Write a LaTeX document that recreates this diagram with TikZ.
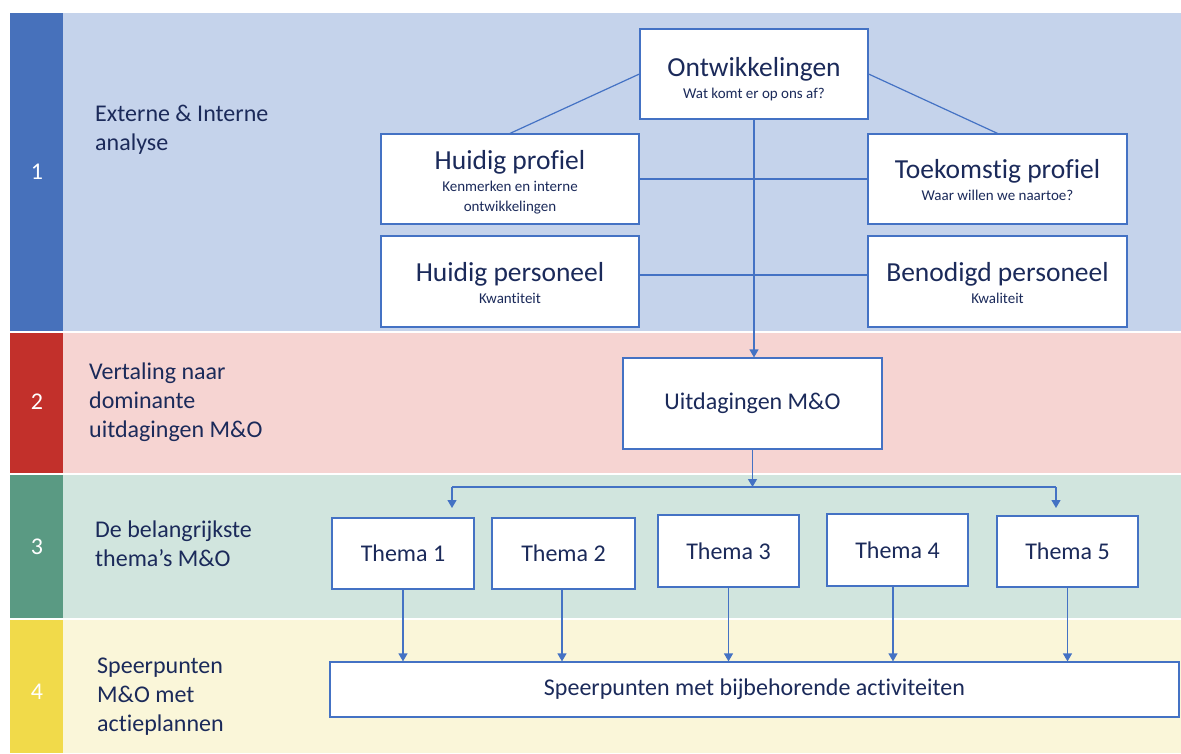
\documentclass[tikz,border=0pt]{standalone}
\usepackage{fontspec}
\setmainfont{Carlito}[Ligatures=NoCommon]
\usetikzlibrary{arrows.meta}

\definecolor{bandAdark}{HTML}{4771BB}
\definecolor{bandAlight}{HTML}{C5D3EB}
\definecolor{bandBdark}{HTML}{C2302B}
\definecolor{bandBlight}{HTML}{F6D4D2}
\definecolor{bandCdark}{HTML}{5A9A83}
\definecolor{bandClight}{HTML}{D1E5DE}
\definecolor{bandDdark}{HTML}{F1DA4A}
\definecolor{bandDlight}{HTML}{FAF6D9}
\definecolor{navy}{HTML}{1B2A5A}
\definecolor{lineblue}{HTML}{4472C4}

\newcommand\titlefnt{\fontsize{27.5}{32}\selectfont}
\newcommand\bodyfnt{\fontsize{24}{29}\selectfont}
\newcommand\subfnt{\fontsize{15}{20}\selectfont}

\tikzset{
  box/.style={draw=lineblue, line width=1.2pt, fill=white, inner sep=0pt,
              align=center, text=navy},
  frame/.style={draw=lineblue, line width=1.2pt, fill=white, inner sep=0pt},
  boxtext/.style={align=center, text=navy, font=\subfnt, inner sep=0pt},
  conn/.style={draw=lineblue, line width=1.2pt},
  arr/.style={conn, -{Triangle[width=9pt,length=8pt]}},
  lbl/.style={anchor=west, align=left, text=navy, font=\bodyfnt, inner sep=0pt},
  num/.style={text=white, font=\bodyfnt, inner sep=0pt}
}

\begin{document}
\begin{tikzpicture}[x=1pt, y=-1pt]
\useasboundingbox (0,0) rectangle (1181,753);
\fill[white] (0,0) rectangle (1181,753);

% colour bands with their coloured left column
\fill[bandAlight] (63,13)  rectangle (1181,331);
\fill[bandAdark]  (10,13)  rectangle (63,331);
\fill[bandBlight] (63,333) rectangle (1181,473);
\fill[bandBdark]  (10,333) rectangle (63,473);
\fill[bandClight] (63,475) rectangle (1181,618);
\fill[bandCdark]  (10,475) rectangle (63,618);
\fill[bandDlight] (63,620) rectangle (1181,753);
\fill[bandDdark]  (10,620) rectangle (63,753);

% step numbers
\node[num] (n1) at (37,172) {1};
\node[num] (n2) at (37,402) {2};
\node[num] (n3) at (37,547) {3};
\node[num] (n4) at (37,692) {4};

% step descriptions
\node[lbl] (l1) at (95,130) {Externe \& Interne\\analyse};
\node[lbl] (l2) at (89,402) {Vertaling naar\\dominante\\uitdagingen M\&O};
\node[lbl] (l3) at (95,544) {De belangrijkste\\thema’s M\&O};
\node[lbl] (l4) at (97,697) {Speerpunten\\M\&O met\\actieplannen};

% analysis boxes: frame first, then its two-level text
\node[frame, minimum width=228pt, minimum height=90pt] (o) at (754,74) {};
\node[boxtext] (otx) at (754,79)
  {{\titlefnt Ontwikkelingen}\\[2pt]Wat komt er op ons af?};
\node[frame, minimum width=258pt, minimum height=90pt] (hp) at (510,179) {};
\node[boxtext] (hptx) at (510,182)
  {{\titlefnt Huidig profiel}\\[2pt]Kenmerken en interne\\ontwikkelingen};
\node[frame, minimum width=259pt, minimum height=90pt] (tp) at (997.5,179) {};
\node[boxtext] (tptx) at (997.5,180)
  {{\titlefnt Toekomstig profiel}\\[2pt]Waar willen we naartoe?};
\node[frame, minimum width=258pt, minimum height=91pt] (hpe) at (510,281.5) {};
\node[boxtext] (hpetx) at (510,283.5)
  {{\titlefnt Huidig personeel}\\[2pt]Kwantiteit};
\node[frame, minimum width=259pt, minimum height=91pt] (bp) at (997.5,281.5) {};
\node[boxtext] (bptx) at (997.5,283.5)
  {{\titlefnt Benodigd personeel}\\[2pt]Kwaliteit};

% challenges
\node[box, minimum width=259pt, minimum height=91pt, font=\bodyfnt] (u) at (752.5,403.5)
  {Uitdagingen M\&O};

% themes
\node[box, minimum width=142pt, minimum height=71pt, font=\bodyfnt] (t1) at (403,553.5) {Thema 1};
\node[box, minimum width=143pt, minimum height=71pt, font=\bodyfnt] (t2) at (563.5,553.5) {Thema 2};
\node[box, minimum width=141pt, minimum height=72pt, font=\bodyfnt] (t3) at (728.5,551) {Thema 3};
\node[box, minimum width=141pt, minimum height=72pt, font=\bodyfnt] (t4) at (897.5,550) {Thema 4};
\node[box, minimum width=141pt, minimum height=71pt, font=\bodyfnt] (t5) at (1067.5,551.5) {Thema 5};

% focus points
\node[box, minimum width=849pt, minimum height=55pt, font=\bodyfnt] (sp) at (754.5,689.5)
  {Speerpunten met bijbehorende activiteiten};

% connectors in step 1
\draw[conn] (o.west) -- (hp.north);
\draw[conn] (o.east) -- (tp.north);
\draw[conn] (hp.east) -- (tp.west);
\draw[conn] ([yshift=6.5pt]hpe.east) -- ([yshift=6.5pt]bp.west);
\draw[arr] (o.south) -- (o.south |- u.north);

% distribution bar towards the themes
\coordinate (bl) at (452,487);
\coordinate (br) at (1056,487);
\coordinate (bla) at (452,508);
\coordinate (bra) at (1056,508);
\draw[arr] (u.south) -- (u.south |- bl);
\draw[conn] (bl) -- (br);
\draw[arr] (bl) -- (bla);
\draw[arr] (br) -- (bra);

% themes feed the focus points
\draw[arr] (t1.south) -- (t1.south |- sp.north);
\draw[arr] ([xshift=-1.5pt]t2.south) -- ([xshift=-1.5pt]t2.south |- sp.north);
\draw[arr] (t3.south) -- (t3.south |- sp.north);
\draw[arr] ([xshift=-4.5pt]t4.south) -- ([xshift=-4.5pt]t4.south |- sp.north);
\draw[arr] (t5.south) -- (t5.south |- sp.north);
\end{tikzpicture}
\end{document}
